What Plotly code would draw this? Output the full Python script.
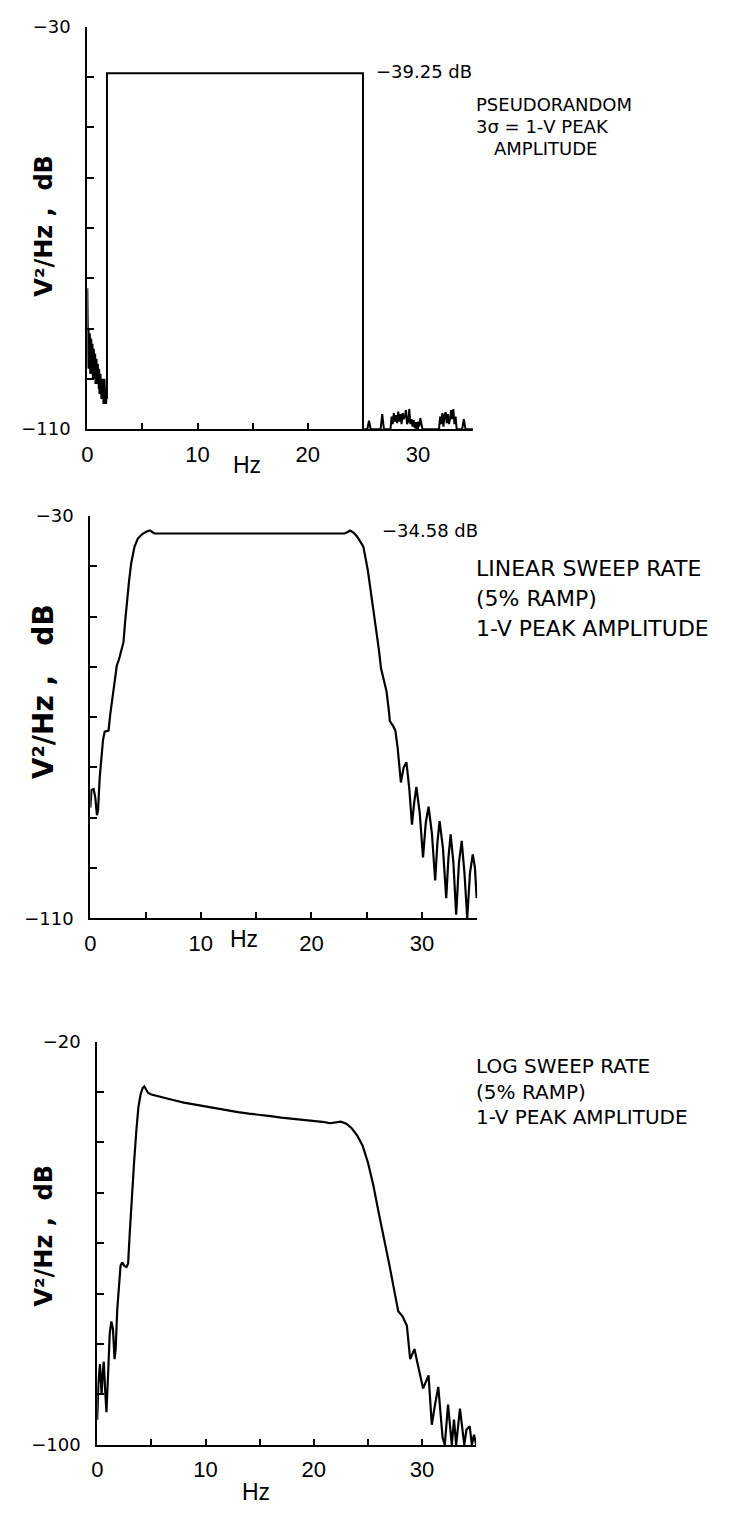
import plotly.graph_objects as go

W, H = 745, 1518

# ---------------- data ----------------
# Panel 1: pseudorandom
freq_pr = [0.00, 0.02, 0.05, 0.08, 0.11, 0.14, 0.17, 0.20, 0.23, 0.26, 0.29, 0.32, 0.35, 0.38,
           0.41, 0.44, 0.47, 0.50, 0.53, 0.56, 0.59, 0.62, 0.65, 0.68, 0.71, 0.74, 0.77, 0.80,
           0.83, 0.86, 0.89, 0.92, 0.95, 0.98, 1.01, 1.04, 1.07, 1.10, 1.13, 1.16, 1.19, 1.22,
           1.25, 1.28, 1.31, 1.34, 1.37, 1.40, 1.43, 1.46, 1.49, 1.52, 1.55, 1.58, 1.61, 1.64,
           1.67, 1.70, 1.74, 1.78, 1.78, 25.0, 25.0,
           25.4, 25.55, 25.7, 26.6, 26.75, 26.9, 27.5, 27.6, 27.7, 27.8, 27.9, 28.0, 28.1, 28.2,
           28.3, 28.4, 28.5, 28.6, 28.7, 28.8, 28.9, 29.0, 29.1, 29.2, 29.3, 29.4, 29.5, 29.6,
           29.7, 29.8, 29.9, 30.0, 30.1, 30.2, 30.4, 31.9, 32.0, 32.1, 32.2, 32.3, 32.4, 32.5,
           32.6, 32.7, 32.8, 32.9, 33.0, 33.1, 33.2, 33.3, 33.4, 33.5, 34.0, 34.15, 34.3, 35.0]
psd_pr = [-82, -97, -89, -98, -90, -97, -90, -98, -91, -99, -92, -98, -92, -99,
          -93, -99, -93, -100, -94, -99, -94, -100, -95, -100, -95, -101, -96, -100,
          -96, -101, -97, -101, -97, -102, -98, -102, -98, -103, -99, -102, -99, -103,
          -99, -104, -100, -103, -100, -104, -100, -105, -101, -104, -100, -105, -101, -105,
          -102, -105, -103, -104, -39.25, -39.25, -110,
          -110, -108.3, -110, -110, -107, -110, -110, -107.5, -109, -106.8, -108.5, -107.2, -108.8, -106.5,
          -108.5, -107, -109, -106.8, -108, -107.5, -106.2, -109, -108.5, -106, -109, -108, -109.5,
          -108.2, -109.8, -108.6, -111, -108.5, -109.5, -107.8, -110, -110, -107.5, -109, -106.8, -109.5, -107.2,
          -106.6, -108.8, -107, -109, -108, -106.2, -108, -106, -109, -107.5, -110, -110, -108, -110, -110]

# Panel 2: linear sweep rate
freq_lin = [0.0, 0.1, 0.3, 0.45, 0.6, 0.7, 0.85, 1.0, 1.15, 1.3, 1.5, 1.65, 1.8, 1.95, 2.2, 2.4,
            2.6, 2.8, 3.0, 3.15, 3.3, 3.5, 3.7, 4.0, 4.3, 4.7, 5.1, 5.4, 5.6, 5.8, 10.0, 15.0,
            20.0, 23.0, 23.3, 23.5, 23.8, 24.1, 24.4, 24.7, 25.1, 25.4, 25.65, 25.9, 26.1, 26.3,
            26.6, 26.8, 27.0, 27.1, 27.4, 27.6, 27.8, 28.0, 28.1, 28.35, 28.6, 28.85, 29.1, 29.3,
            29.5, 29.8, 30.1, 30.35, 30.6, 30.9, 31.2, 31.4, 31.6, 31.9, 32.2, 32.4, 32.6, 32.85,
            33.1, 33.35, 33.6, 33.85, 34.1, 34.35, 34.6, 34.8, 34.95]
psd_lin = [-88, -84.5, -84.3, -86, -89.5, -88.5, -82, -78, -74.5, -72.9, -72.8, -72.7, -69.5, -66.9, -62.5, -59.7,
           -58.5, -57, -55.1, -51, -47.3, -43, -39.4, -36.1, -34.5, -33.6, -33.1, -32.9, -33.2, -33.5, -33.5, -33.5,
           -33.5, -33.5, -33.2, -32.9, -33.3, -34.0, -35.0, -36.1, -40.7, -45.3, -49.5, -53.1, -56.5, -60.3,
           -63.0, -64.9, -68.5, -70.8, -71.8, -72.7, -76, -81, -83, -80, -79, -84, -91.4, -87,
           -83.9, -89, -97.9, -91, -87.8, -93, -102.5, -95, -90.7, -96, -106, -98, -93.3, -99,
           -109.3, -99, -94.6, -101, -110, -101, -97.3, -100, -106]

# Panel 3: log sweep rate
freq_log = [0.0, 0.1, 0.25, 0.4, 0.5, 0.6, 0.75, 0.85, 1.0, 1.15, 1.3, 1.45, 1.6, 1.7, 1.85, 2.0,
            2.15, 2.3, 2.5, 2.7, 2.85, 3.0, 3.2, 3.4, 3.6, 3.8, 4.0, 4.2, 4.35, 4.5, 4.7, 5.0,
            6.0, 7.0, 8.0, 9.0, 10.0, 11.0, 12.0, 13.0, 14.0, 15.0, 16.0, 17.0, 18.0, 19.0, 20.0,
            21.0, 21.5, 22.0, 22.5, 23.0, 23.5, 24.0, 24.5, 25.0, 25.5, 26.0, 26.5, 27.0, 27.4,
            27.8, 28.2, 28.6, 28.9, 29.3, 29.6, 30.1, 30.6, 30.9, 31.2, 31.5, 31.9, 32.1, 32.4,
            32.6, 32.75, 32.95, 33.15, 33.5, 33.75, 33.9, 34.1, 34.4, 34.6, 34.8, 35.0]
psd_log = [-95, -88, -84, -90, -86, -83.5, -90, -93.5, -86, -78, -75.5, -77, -83, -81, -73, -68,
           -64.5, -63.8, -64.5, -64.7, -64, -58, -50, -44, -38, -33, -30.5, -29.2, -28.9, -29.5, -30.2, -30.5,
           -31.1, -31.6, -32.1, -32.5, -32.9, -33.3, -33.7, -34.0, -34.3, -34.5, -34.8, -35.1, -35.3, -35.5, -35.7,
           -36.0, -36.2, -36.0, -35.9, -36.3, -37.2, -38.6, -40.6, -44, -48.5, -54, -59, -64.5, -69,
           -73.5, -74.5, -76.4, -83, -81, -84, -88.8, -86.2, -96, -92, -88.5, -98.6, -100, -92,
           -97, -100, -95, -100, -92.8, -98, -100, -97, -96.3, -100, -98, -100]

x_tick_vals = [0, 5, 10, 15, 20, 25, 30, 35]
x_tick_text = ["0", "", "10", "", "20", "", "30", ""]
y1_tick_vals = [-110, -100, -90, -80, -70, -60, -50, -40, -30]
y1_tick_text = ["\u2212110", "", "", "", "", "", "", "", "\u221230"]
y3_tick_vals = [-100, -90, -80, -70, -60, -50, -40, -30, -20]
y3_tick_text = ["\u2212100", "", "", "", "", "", "", "", "\u221220"]

# ---------------- layout helpers ----------------
def fx(px):
    return px / W

def fy(py):
    return 1 - py / H

FONT = "DejaVu Sans"
SANS = "Liberation Sans"

def xaxis(x0, x1, anchor):
    return dict(domain=[fx(x0), fx(x1)], anchor=anchor, range=[0, 35],
                tickmode="array", tickvals=x_tick_vals, ticktext=x_tick_text,
                showline=True, linecolor="black", linewidth=2, mirror=False,
                ticks="inside", ticklen=6, tickwidth=2, tickcolor="black",
                showgrid=False, zeroline=False,
                tickfont=dict(family=SANS, size=22, color="black"), ticklabelstandoff=4)

def yaxis(y_top, y_bot, anchor, rng, vals, text):
    return dict(domain=[fy(y_bot), fy(y_top)], anchor=anchor, range=rng,
                tickmode="array", tickvals=vals, ticktext=text,
                showline=True, linecolor="black", linewidth=2, mirror=False,
                ticks="inside", ticklen=7, tickwidth=2, tickcolor="black",
                showgrid=False, zeroline=False,
                tickfont=dict(family=FONT, size=18, color="black"), ticklabelstandoff=11)

fig = go.Figure()
fig.add_trace(go.Scatter(x=freq_pr, y=psd_pr, mode="lines", line=dict(color="black", width=2),
                         xaxis="x", yaxis="y"))
fig.add_trace(go.Scatter(x=freq_lin, y=psd_lin, mode="lines", line=dict(color="black", width=2.2),
                         xaxis="x2", yaxis="y2"))
fig.add_trace(go.Scatter(x=freq_log, y=psd_log, mode="lines", line=dict(color="black", width=2.2),
                         xaxis="x3", yaxis="y3"))

ann = []

def text(x, y, s, size, xanchor="left", angle=0, family=FONT, weight="normal"):
    ann.append(dict(x=fx(x), y=fy(y), xref="paper", yref="paper", text=s, showarrow=False,
                    xanchor=xanchor, yanchor="middle", textangle=angle, align="left",
                    font=dict(family=family, size=size, color="black", weight=weight)))

ytitle = "V\u00b2/Hz ,  dB"
# panel 1
text(371, 61, "\u221239.25 dB", 18)
text(472, 95, "PSEUDORANDOM", 18)
text(472, 117, "3\u03c3 = 1-V PEAK", 18)
text(490, 139, "AMPLITUDE", 18)
text(38, 218, ytitle, 24, xanchor="center", angle=-90, weight="bold")
text(243, 460, "Hz", 23, xanchor="center", family=SANS)
# panel 2
text(377, 527, "\u221234.58 dB", 18)
text(472, 565, "LINEAR SWEEP RATE", 22)
text(472, 596, "(5% RAMP)", 22)
text(472, 626, "1-V PEAK AMPLITUDE", 22)
text(38, 690, "V\u00b2/Hz ,   dB", 28, xanchor="center", angle=-90, weight="bold")
text(240, 941, "Hz", 23, xanchor="center", family=SANS)
# panel 3
text(472, 1070, "LOG SWEEP RATE", 20)
text(472, 1096, "(5% RAMP)", 20)
text(472, 1122, "1-V PEAK AMPLITUDE", 20)
text(38, 1242, ytitle, 24, xanchor="center", angle=-90, weight="bold")
text(252, 1502, "Hz", 23, xanchor="center", family=SANS)

fig.update_layout(
    width=W, height=H, margin=dict(l=0, r=0, t=0, b=0),
    paper_bgcolor="white", plot_bgcolor="white", showlegend=False,
    xaxis=xaxis(82, 471, "y"),
    yaxis=yaxis(16, 424, "x", [-110, -30], y1_tick_vals, y1_tick_text),
    xaxis2=xaxis(85, 475, "y2"),
    yaxis2=yaxis(512, 920, "x2", [-110, -30], y1_tick_vals, y1_tick_text),
    xaxis3=xaxis(92, 474, "y3"),
    yaxis3=yaxis(1045, 1454, "x3", [-100, -20], y3_tick_vals, y3_tick_text),
    annotations=ann,
)

fig.write_html("out.html")
